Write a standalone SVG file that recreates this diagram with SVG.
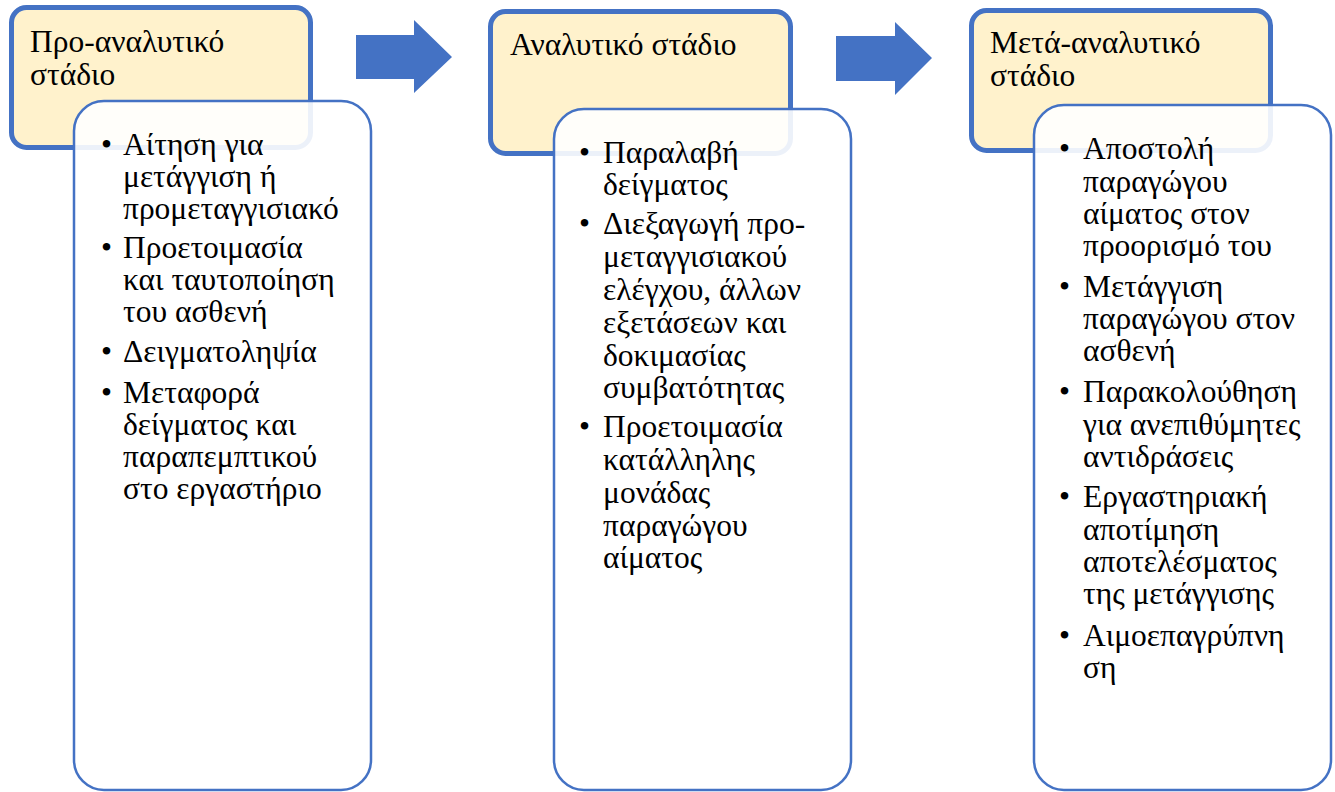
<svg xmlns="http://www.w3.org/2000/svg" width="1335" height="792" viewBox="0 0 1335 792">
  <style>
    .stage { fill: #FFF2CC; stroke: #4472C4; stroke-width: 5; }
    .list { fill: #FFFFFF; fill-opacity: 0.9; stroke: #4472C4; stroke-width: 2.5; }
    .arrow { fill: #4472C4; }
    text { font-family: "Liberation Serif", "Times New Roman", serif; font-size: 31.5px; fill: #000000; }
  </style>

  <rect width="1335" height="792" fill="#FFFFFF"/>

  <!-- Stage 1: pre-analytical -->
  <g id="stage-pre">
    <rect class="stage" x="11.5" y="7.5" width="299" height="140" rx="15"/>
    <text x="30" y="52">Προ-αναλυτικό</text>
    <text x="30" y="85">στάδιο</text>
  </g>
  <g id="list-pre">
    <rect class="list" x="74" y="101" width="297" height="689" rx="30"/>
    <text x="101" y="155">•</text><text x="123" y="155">Αίτηση για</text>
    <text x="123" y="187">μετάγγιση ή</text>
    <text x="123" y="219">προμεταγγισιακό</text>
    <text x="101" y="258">•</text><text x="123" y="258">Προετοιμασία</text>
    <text x="123" y="290">και ταυτοποίηση</text>
    <text x="123" y="322">του ασθενή</text>
    <text x="101" y="362">•</text><text x="123" y="362">Δειγματοληψία</text>
    <text x="101" y="403">•</text><text x="123" y="403">Μεταφορά</text>
    <text x="123" y="435">δείγματος και</text>
    <text x="123" y="467">παραπεμπτικού</text>
    <text x="123" y="499">στο εργαστήριο</text>
  </g>

  <!-- Stage 2: analytical -->
  <g id="stage-analytical">
    <rect class="stage" x="490.5" y="11.5" width="300" height="142" rx="15"/>
    <text x="510" y="55">Αναλυτικό στάδιο</text>
  </g>
  <g id="list-analytical">
    <rect class="list" x="554" y="109" width="297" height="681" rx="30"/>
    <text x="579" y="163">•</text><text x="603" y="163">Παραλαβή</text>
    <text x="603" y="195">δείγματος</text>
    <text x="579" y="234">•</text><text x="603" y="234">Διεξαγωγή προ-</text>
    <text x="603" y="267">μεταγγισιακού</text>
    <text x="603" y="300">ελέγχου, άλλων</text>
    <text x="603" y="333">εξετάσεων και</text>
    <text x="603" y="366">δοκιμασίας</text>
    <text x="603" y="398">συμβατότητας</text>
    <text x="579" y="437">•</text><text x="603" y="437">Προετοιμασία</text>
    <text x="603" y="470">κατάλληλης</text>
    <text x="603" y="503">μονάδας</text>
    <text x="603" y="536">παραγώγου</text>
    <text x="603" y="568">αίματος</text>
  </g>

  <!-- Stage 3: post-analytical -->
  <g id="stage-post">
    <rect class="stage" x="971.5" y="10.5" width="299" height="140" rx="15"/>
    <text x="990" y="53">Μετά-αναλυτικό</text>
    <text x="990" y="86">στάδιο</text>
  </g>
  <g id="list-post">
    <rect class="list" x="1034" y="105" width="297" height="685" rx="30"/>
    <text x="1059" y="159">•</text><text x="1083" y="159">Αποστολή</text>
    <text x="1083" y="192">παραγώγου</text>
    <text x="1083" y="224">αίματος στον</text>
    <text x="1083" y="256">προορισμό του</text>
    <text x="1059" y="297">•</text><text x="1083" y="297">Μετάγγιση</text>
    <text x="1083" y="329">παραγώγου στον</text>
    <text x="1083" y="361">ασθενή</text>
    <text x="1059" y="402">•</text><text x="1083" y="402">Παρακολούθηση</text>
    <text x="1083" y="435">για ανεπιθύμητες</text>
    <text x="1083" y="467">αντιδράσεις</text>
    <text x="1059" y="507">•</text><text x="1083" y="507">Εργαστηριακή</text>
    <text x="1083" y="540">αποτίμηση</text>
    <text x="1083" y="572">αποτελέσματος</text>
    <text x="1083" y="604">της μετάγγισης</text>
    <text x="1059" y="646">•</text><text x="1083" y="646">Αιμοεπαγρύπνη</text>
    <text x="1083" y="678">ση</text>
  </g>

  <!-- Flow arrows between stages -->
  <g id="connectors">
    <polygon class="arrow" points="356,35 414,35 414,20 452,57 414,93 414,79 356,79"/>
    <polygon class="arrow" points="836,36 895,36 895,22 932,58 895,95 895,81 836,81"/>
  </g>
</svg>
